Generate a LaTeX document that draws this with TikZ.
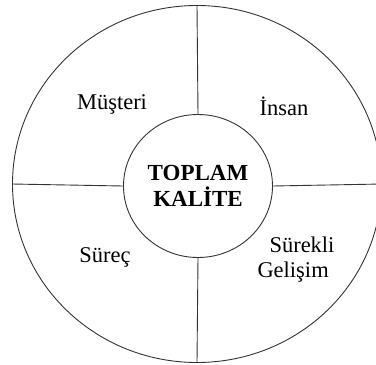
\documentclass[tikz,border=0pt]{standalone}
\usepackage{fontspec}
\setmainfont{Liberation Serif}
\usetikzlibrary{shapes.geometric}
\tikzset{
  disk/.style  = {ellipse, draw=black!80, line width=0.9pt, minimum width=369pt, minimum height=357pt, inner sep=0},
  merkez/.style = {ellipse, draw=black!80, line width=0.9pt, minimum width=149pt, minimum height=143pt, inner sep=0,
                   align=center, font=\fontsize{23}{26}\selectfont\bfseries},
  ayrac/.style = {draw=black!80, line width=0.9pt},
  etiket/.style = {font=\fontsize{22.5}{25}\selectfont}
}
\begin{document}
\begin{tikzpicture}[x=1pt, y=-1pt]
  \useasboundingbox (0,0) rectangle (376,365);
  \clip (0,0) rectangle (376,365);
  \node[disk] (dis) at (197,184){};
  \node[merkez] (ic) at (198,186){TOPLAM\\KALİTE};
  \draw[ayrac] (dis.north)--(ic.north); \draw[ayrac] (ic.south)--(dis.south);
  \draw[ayrac] (dis.west)--(ic.west);   \draw[ayrac] (ic.east)--(dis.east);
  \node[etiket] (mus) at (112,104){Müşteri};
  \node[etiket] (ins) at (284,106){İnsan};
  \node[etiket] (sur) at (105,257){Süreç};
  \node[etiket, align=left] (gel) at (296,260){\hspace*{12pt}Sürekli\\Gelişim};
\end{tikzpicture}
\end{document}
